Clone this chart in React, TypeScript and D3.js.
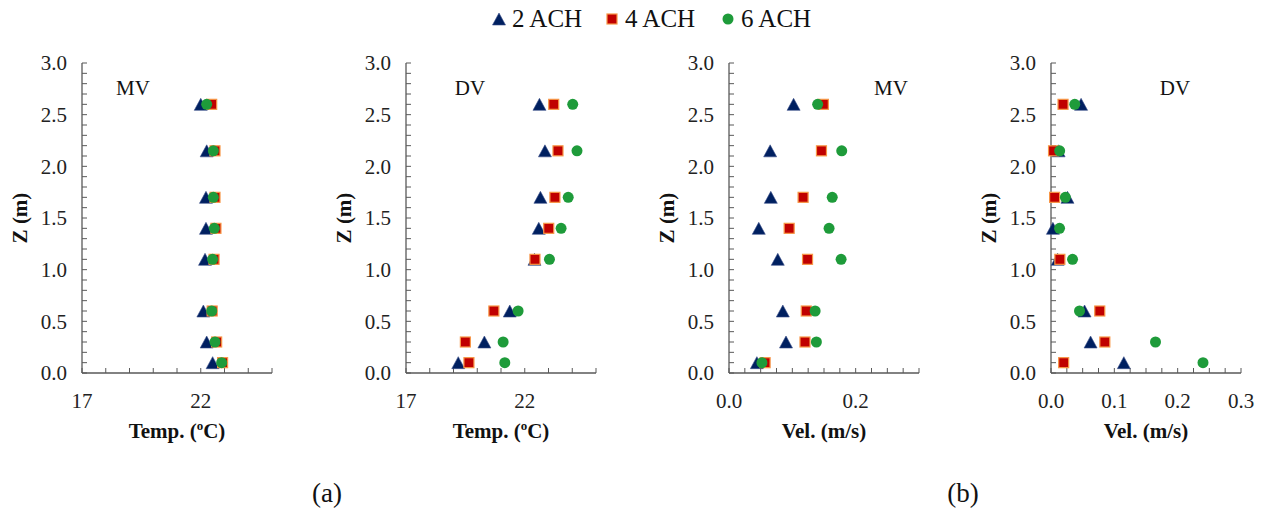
import React from "react";
import * as d3 from "d3";

// heights (m) of the measuring points, shared by all four panels
const heights = [0.1, 0.3, 0.6, 1.1, 1.4, 1.7, 2.15, 2.6];

const seriesNames = ["2 ACH", "4 ACH", "6 ACH"];

// (a) temperature, MV
const tempMV2 = [22.5, 22.25, 22.11, 22.18, 22.22, 22.22, 22.25, 22.0];
const tempMV4 = [22.92, 22.67, 22.48, 22.56, 22.64, 22.6, 22.6, 22.46];
const tempMV6 = [22.88, 22.6, 22.46, 22.5, 22.57, 22.53, 22.53, 22.25];

// (a) temperature, DV
const tempDV2 = [19.2, 20.3, 21.37, 22.41, 22.59, 22.66, 22.85, 22.62];
const tempDV4 = [19.65, 19.5, 20.7, 22.43, 23.01, 23.27, 23.4, 23.22];
const tempDV6 = [21.16, 21.09, 21.72, 23.04, 23.53, 23.83, 24.2, 24.02];

// (b) velocity, MV
const velMV2 = [0.044, 0.09, 0.085, 0.077, 0.047, 0.066, 0.065, 0.102];
const velMV4 = [0.057, 0.12, 0.122, 0.124, 0.095, 0.117, 0.146, 0.149];
const velMV6 = [0.052, 0.138, 0.136, 0.177, 0.158, 0.163, 0.178, 0.14];

// (b) velocity, DV
const velDV2 = [0.115, 0.0625, 0.053, 0.0105, 0.003, 0.026, 0.012, 0.0475];
const velDV4 = [0.02, 0.085, 0.077, 0.014, null, 0.0057, 0.004, 0.019];
const velDV6 = [0.24, 0.165, 0.045, 0.034, 0.0135, 0.0227, 0.0137, 0.0375];

const zTicks = [0, 0.5, 1.0, 1.5, 2.0, 2.5, 3.0];
const tempTicks = [17, 22];
const velTicksMV = [0, 0.2];
const velTicksDV = [0, 0.1, 0.2, 0.3];

const colors = {
  tri: "#002060",
  sq: "#C00000",
  sqEdge: "#F79646",
  circ: "#1E9B3A",
};

const FONT = '"Liberation Serif", Tinos, "Times New Roman", "DejaVu Serif", serif';
const serif = { fontFamily: FONT };

const panels = [
  { left: 82, tag: "MV", tagX: 133, domain: [17, 25], minor: 1, ticks: tempTicks, fmt: (d) => String(d), title: "temp", data: [tempMV2, tempMV4, tempMV6] },
  { left: 406, tag: "DV", tagX: 470, domain: [17, 25], minor: 1, ticks: tempTicks, fmt: (d) => String(d), title: "temp", data: [tempDV2, tempDV4, tempDV6] },
  { left: 729, tag: "MV", tagX: 891, domain: [0, 0.3], minor: 0.025, ticks: velTicksMV, fmt: d3.format(".1f"), title: "vel", data: [velMV2, velMV4, velMV6] },
  { left: 1051, tag: "DV", tagX: 1175, domain: [0, 0.3], minor: 0.025, ticks: velTicksDV, fmt: d3.format(".1f"), title: "vel", data: [velDV2, velDV4, velDV6] },
];

const axisW = 190;
const yTop = 63;
const yBottom = 373;
const axisColor = "#595959";

function Marker({ kind, x, y }) {
  if (kind === 0) {
    const s = 13;
    const h = 12;
    return (
      <path
        d={`M${x},${y - h / 2}L${x + s / 2},${y + h / 2}L${x - s / 2},${y + h / 2}Z`}
        fill={colors.tri}
        stroke="#3A4F8A"
        strokeWidth={0.6}
      />
    );
  }
  if (kind === 1) {
    return <rect x={x - 5} y={y - 5} width={10} height={10} fill={colors.sq} stroke={colors.sqEdge} strokeWidth={1.2} />;
  }
  return <circle cx={x} cy={y} r={5.5} fill={colors.circ} />;
}

function Panel({ p }) {
  const x = d3.scaleLinear().domain(p.domain).range([p.left, p.left + axisW]);
  const y = d3.scaleLinear().domain([0, 3]).range([yBottom, yTop]);
  const nMinor = Math.round((p.domain[1] - p.domain[0]) / p.minor);
  const xMinor = d3.range(nMinor + 1).map((i) => p.domain[0] + i * p.minor);
  const yMinor = d3.range(31).map((i) => i / 10);

  return (
    <g>
      {/* y axis */}
      <line x1={p.left} x2={p.left} y1={yTop} y2={yBottom} stroke={axisColor} strokeWidth={1.3} />
      {yMinor.map((v) => (
        <line key={"ym" + v} x1={p.left} x2={p.left + 5} y1={y(v)} y2={y(v)} stroke={axisColor} strokeWidth={1} />
      ))}
      {zTicks.map((v) => (
        <text key={"yl" + v} x={p.left - 15} y={y(v)} dy="0.35em" textAnchor="end" fontSize={21} style={serif} fill="#222">
          {d3.format(".1f")(v)}
        </text>
      ))}
      <text
        transform={`translate(${p.left - 55},${(yTop + yBottom) / 2}) rotate(-90)`}
        textAnchor="middle"
        fontSize={21}
        fontWeight="bold"
        style={serif}
        fill="#111"
      >
        Z (m)
      </text>

      {/* x axis */}
      <line x1={p.left} x2={p.left + axisW} y1={yBottom} y2={yBottom} stroke={axisColor} strokeWidth={1.3} />
      {xMinor.map((v) => (
        <line key={"xm" + v} x1={x(v)} x2={x(v)} y1={yBottom} y2={yBottom - 5} stroke={axisColor} strokeWidth={1} />
      ))}
      {p.ticks.map((v) => (
        <text key={"xl" + v} x={x(v)} y={408} textAnchor="middle" fontSize={21} style={serif} fill="#222">
          {p.fmt(v)}
        </text>
      ))}
      <text x={p.left + axisW / 2} y={438} textAnchor="middle" fontSize={21} fontWeight="bold" style={serif} fill="#111">
        {p.title === "temp" ? (
          <>
            Temp. (<tspan fontSize={13} dy={-8}>o</tspan>
            <tspan dy={8}>C)</tspan>
          </>
        ) : (
          "Vel. (m/s)"
        )}
      </text>

      <text x={p.tagX} y={95} textAnchor="middle" fontSize={21} style={serif} fill="#111">
        {p.tag}
      </text>

      {/* markers: 2 ACH, then 4 ACH, then 6 ACH on top */}
      {p.data.map((series, si) => (
        <g key={"s" + si}>
          {series.map((v, i) =>
            v == null ? null : <Marker key={i} kind={si} x={x(v)} y={y(heights[i])} />
          )}
        </g>
      ))}
    </g>
  );
}

function Legend() {
  const items = [
    { kind: 0, x: 499 },
    { kind: 1, x: 612 },
    { kind: 2, x: 728 },
  ];
  return (
    <g>
      {items.map((it, i) => (
        <g key={i}>
          <Marker kind={it.kind} x={it.x} y={19} />
          <text x={it.x + 13} y={27} fontSize={25} style={serif} fill="#111">
            {seriesNames[i]}
          </text>
        </g>
      ))}
    </g>
  );
}

export default function App() {
  return (
    <svg
      width={1261}
      height={513}
      style={{ position: "absolute", left: 0, top: 0, background: "#fff" }}
    >
      <rect width={1261} height={513} fill="#fff" />
      <Legend />
      {panels.map((p, i) => (
        <Panel key={i} p={p} />
      ))}
      <text x={327} y={502} textAnchor="middle" fontSize={27} style={serif} fill="#111">
        (a)
      </text>
      <text x={963} y={502} textAnchor="middle" fontSize={27} style={serif} fill="#111">
        (b)
      </text>
    </svg>
  );
}
